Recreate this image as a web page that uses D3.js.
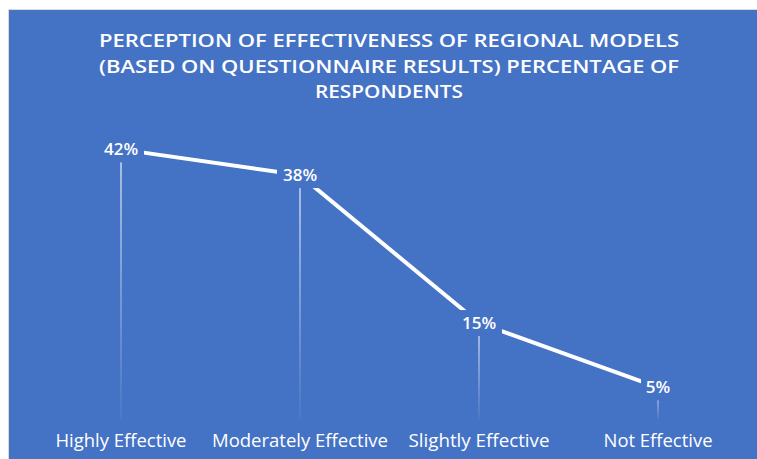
<!DOCTYPE html>
<html>
<head>
<meta charset="utf-8">
<script src="https://cdn.jsdelivr.net/npm/d3@7"></script>
<style>
  body { margin: 0; background: #fff; }
  svg text { font-family: "Open Sans", "Noto Sans", sans-serif; fill: #fff; }
</style>
</head>
<body>
<div id="chart"></div>
<script>
// data
var categories = ['Highly Effective', 'Moderately Effective', 'Slightly Effective', 'Not Effective'];
var values = [42, 38, 15, 5];
var titleLines = ['PERCEPTION OF EFFECTIVENESS OF REGIONAL MODELS',
                  '(BASED ON QUESTIONNAIRE RESULTS) PERCENTAGE OF',
                  'RESPONDENTS'];

var W = 757, H = 459;
var svg = d3.select('#chart').append('svg').attr('width', W).attr('height', H);

// blue chart area with a light border
svg.append('rect')
  .attr('x', 8.5).attr('y', 9.5).attr('width', W).attr('height', H)
  .attr('fill', '#4472C4').attr('stroke', '#d9d9d9').attr('stroke-width', 1);

var defs = svg.append('defs');
var grad = defs.append('linearGradient').attr('id', 'dropFade')
  .attr('x1', 0).attr('y1', 0).attr('x2', 0).attr('y2', 1);
grad.append('stop').attr('offset', '0%').attr('stop-color', '#fff').attr('stop-opacity', 0.75);
grad.append('stop').attr('offset', '100%').attr('stop-color', '#fff').attr('stop-opacity', 0.05);

var x = d3.scalePoint().domain(categories).range([121, 658]);
var y = d3.scaleLinear().domain([0, 45]).range([419.5, 130.1]);

// title
var tl = [40, 66, 91];
var tw = [580, 580, 148];
svg.append('g').selectAll('text')
  .data(titleLines).enter()
  .append('text')
    .attr('x', 389)
    .attr('y', (d, i) => tl[i] + 6.5)
    .attr('text-anchor', 'middle')
    .attr('font-size', 18)
    .attr('font-weight', 600)
    .attr('textLength', (d, i) => tw[i])
    .attr('lengthAdjust', 'spacingAndGlyphs')
    .text(d => d);

// drop lines
svg.append('g').selectAll('rect')
  .data(values).enter()
  .append('rect')
    .attr('x', (d, i) => x(categories[i]) - 0.75)
    .attr('y', d => y(d))
    .attr('width', 1.5)
    .attr('height', d => y(0) - y(d))
    .attr('fill', 'url(#dropFade)');

// the line
var line = d3.line()
  .x((d, i) => x(categories[i]))
  .y(d => y(d));

svg.append('path')
  .datum(values)
  .attr('d', line)
  .attr('fill', 'none')
  .attr('stroke', '#fff')
  .attr('stroke-width', 4);

// data labels with blue boxes behind
var lab = svg.append('g').selectAll('g')
  .data(values).enter()
  .append('g')
    .attr('transform', (d, i) => 'translate(' + x(categories[i]) + ',' + y(d) + ')');

lab.append('rect')
  .attr('x', d => d < 10 ? -17 : -23)
  .attr('y', -13)
  .attr('width', d => d < 10 ? 34 : 46)
  .attr('height', 26)
  .attr('fill', '#4472C4');

lab.append('text')
  .attr('text-anchor', 'middle')
  .attr('y', 6)
  .attr('font-size', 17)
  .attr('font-weight', 600)
  .text(d => d + '%');

// category labels
var cw = [131, 176, 141, 109];
svg.append('g').selectAll('text')
  .data(categories).enter()
  .append('text')
    .attr('x', d => x(d))
    .attr('y', 447)
    .attr('text-anchor', 'middle')
    .attr('font-size', 18)
    .attr('textLength', (d, i) => cw[i])
    .attr('lengthAdjust', 'spacingAndGlyphs')
    .text(d => d);
</script>
</body>
</html>
